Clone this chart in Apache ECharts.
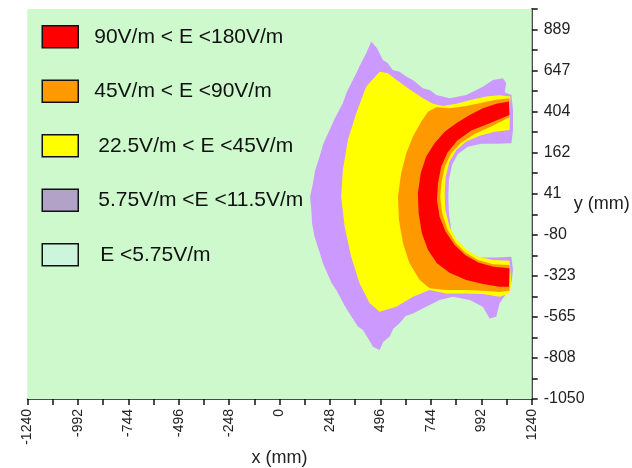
<!DOCTYPE html>
<html><head><meta charset="utf-8">
<script src="https://cdn.jsdelivr.net/npm/echarts@6/dist/echarts.min.js"></script>
<style>html,body{margin:0;padding:0;background:#fff}#c{width:632px;height:468px}</style>
</head><body><div id="c"></div>
<script>
// ---- data ----
const legendLabels = ['90V/m < E <180V/m', '45V/m < E <90V/m', '22.5V/m < E <45V/m', '5.75V/m <E <11.5V/m', 'E <5.75V/m'];
const yTickLabels = ['-1050', '-808', '-565', '-323', '-80', '41', '162', '404', '647', '889'];
const xMin = -1240, xMax = 1240, xStep = 248;
const yMin = -1050, yStep = 1939 / 18;

// region boundaries (x mm, y mm)
const regionLow = [[-1240, -1050], [1240, -1050], [1240, 997], [-1240, 997]];
const regionPurple = [[451,826],[480,790],[508,729],[530,715],[557,677],[590,668],[623,642],[660,620],[705,581],[740,570],[771,546],[836,528],[918,546],[1000,589],[1049,624],[1099,633],[1115,607],[1107,560],[1140,545],[1148,467],[1148,362],[1140,292],
  [1066,289],[992,289],[926,274],[877,236],[848,178],[833,100],[830,12],[833,-76],[844,-163],[869,-230],[918,-277],[984,-307],[1066,-308],[1140,-303],
  [1148,-373],[1140,-443],[1115,-496],[1082,-548],[1066,-618],[1033,-627],[1000,-566],[935,-531],[853,-513],[787,-531],[721,-566],[656,-601],[620,-615],[590,-653],[560,-680],[541,-723],[510,-750],[492,-793],[459,-776],[440,-740],[410,-688],[385,-670],[344,-601],[320,-560],[279,-478],[255,-440],[213,-338],[200,-290],[172,-198],[160,-130],[156,-58],[150,10],[164,82],[175,150],[197,222],[215,290],[246,362],[270,420],[311,502],[330,560],[377,660],[395,700],[426,765]];
const regionYellow = [[492,668],[426,590],[377,450],[336,310],[311,152],[303,12],[320,-146],[352,-303],[393,-443],[443,-548],[492,-592],[574,-566],[656,-513],[738,-478],[820,-496],[918,-496],[1000,-499],[1082,-513],[1131,-496],[1140,-443],
  [1131,-324],[1049,-321],[976,-303],[918,-265],[869,-212],[836,-146],[815,-58],[812,30],[817,117],[836,196],[869,257],[918,301],[984,331],[1058,353],[1131,362],
  [1135,537],[1082,544],[1017,537],[943,520],[869,499],[803,488],[754,499],[705,528],[639,576],[574,625],[533,660]];
const regionOrange = [[1131,528],[1066,520],[1000,506],[918,488],[836,476],[771,481],[730,458],[697,406],[656,327],[623,240],[598,135],[582,12],[587,-111],[607,-233],[639,-338],[689,-426],[738,-469],[820,-478],[918,-478],[1000,-482],[1082,-489],[1131,-482],
  [1131,-347],[1049,-343],[976,-321],[915,-282],[866,-230],[826,-160],[800,-76],[790,12],[797,91],[813,170],[844,240],[894,296],[959,341],[1041,380],[1131,429]];
const regionRed = [[1128,511],[1066,499],[1000,476],[935,441],[869,397],[812,353],[762,292],[721,222],[694,135],[680,30],[684,-76],[700,-181],[730,-268],[774,-338],[836,-387],[918,-426],[1000,-447],[1082,-461],[1128,-461],
  [1131,-364],[1053,-356],[977,-333],[913,-294],[861,-242],[817,-172],[787,-93],[774,-6],[779,82],[795,170],[826,243],[874,306],[943,359],[1033,397],[1131,441]];

const regions = [
  { name: legendLabels[4], pts: regionLow, color: '#cdf9cd', legendColor: '#ccf6dc', pad: 17 },
  { name: legendLabels[3], pts: regionPurple, color: '#cc99ff', legendColor: '#b3a2c7', pad: 15 },
  { name: legendLabels[2], pts: regionYellow, color: '#ffff00', legendColor: '#ffff00', pad: 15 },
  { name: legendLabels[1], pts: regionOrange, color: '#ff9900', legendColor: '#ff9900', pad: 11 },
  { name: legendLabels[0], pts: regionRed, color: '#ff0000', legendColor: '#ff0000', pad: 11 }
];

const FONT = 'Liberation Sans, Arial, sans-serif';
const chart = echarts.init(document.getElementById('c'), null, { renderer: 'canvas' });

const series = regions.map(r => ({
  type: 'custom',
  name: r.name,
  coordinateSystem: 'cartesian2d',
  silent: true,
  data: [0],
  itemStyle: { color: r.color },
  renderItem: function (params, api) {
    return {
      type: 'polygon',
      shape: { points: r.pts.map(p => api.coord(p)) },
      style: { fill: r.color, stroke: null }
    };
  }
}));

const legendData = legendLabels.map(lbl => {
  const r = regions.find(q => q.name === lbl);
  return {
    name: lbl,
    icon: 'rect',
    itemStyle: { color: r.legendColor, borderColor: '#111', borderWidth: 1.5 },
    textStyle: { padding: [0, 0, 7, r.pad] }
  };
});

chart.setOption({
  animation: false,
  backgroundColor: '#ffffff',
  grid: { left: 27.5, right: 100.3, top: 9, bottom: 69, outerBoundsMode: 'none', containLabel: false, show: true, backgroundColor: '#cdf9cd', borderWidth: 0 },
  legend: {
    orient: 'vertical', left: 41.5, top: 25, padding: 0,
    itemWidth: 36, itemHeight: 22, itemGap: 31,
    selectedMode: false,
    textStyle: { fontSize: 21, color: '#111', fontFamily: FONT },
    data: legendData
  },
  xAxis: {
    type: 'value', min: xMin, max: xMax, interval: xStep,
    name: 'x (mm)', nameLocation: 'middle', nameGap: 50, nameMoveOverlap: false,
    nameTextStyle: { fontSize: 18, color: '#222', fontFamily: FONT },
    axisLine: { show: true, onZero: false, lineStyle: { color: '#111', width: 1.5 } },
    axisTick: { show: true, length: 6, lineStyle: { color: '#111', width: 1.5 } },
    minorTick: { show: true, splitNumber: 2, length: 6, lineStyle: { color: '#111', width: 1.5 } },
    splitLine: { show: false },
    axisLabel: { rotate: 90, margin: 10, fontSize: 14, color: '#222', fontFamily: FONT, showMinLabel: true, showMaxLabel: true,
      formatter: function (v) { return String(Math.round(v)); } }
  },
  yAxis: {
    type: 'value', position: 'right', min: yMin, max: yMin + 19 * yStep, interval: yStep,
    name: 'y (mm)', nameLocation: 'middle', nameRotate: 0, nameGap: 42, nameMoveOverlap: false,
    nameTextStyle: { fontSize: 18, color: '#222', fontFamily: FONT, align: 'left', padding: [18, 0, 0, 0] },
    axisLine: { show: true, onZero: false, lineStyle: { color: '#111', width: 1.5 } },
    axisTick: { show: true, length: 6, lineStyle: { color: '#111', width: 1.5 } },
    splitLine: { show: false },
    axisLabel: {
      margin: 12, fontSize: 16, color: '#222', fontFamily: FONT, showMinLabel: true, showMaxLabel: true,
      formatter: function (v) {
        const idx = Math.round((v - yMin) / yStep);
        return idx % 2 === 0 ? (yTickLabels[idx / 2] || '') : '';
      }
    }
  },
  series: series
});
</script>
</body></html>
